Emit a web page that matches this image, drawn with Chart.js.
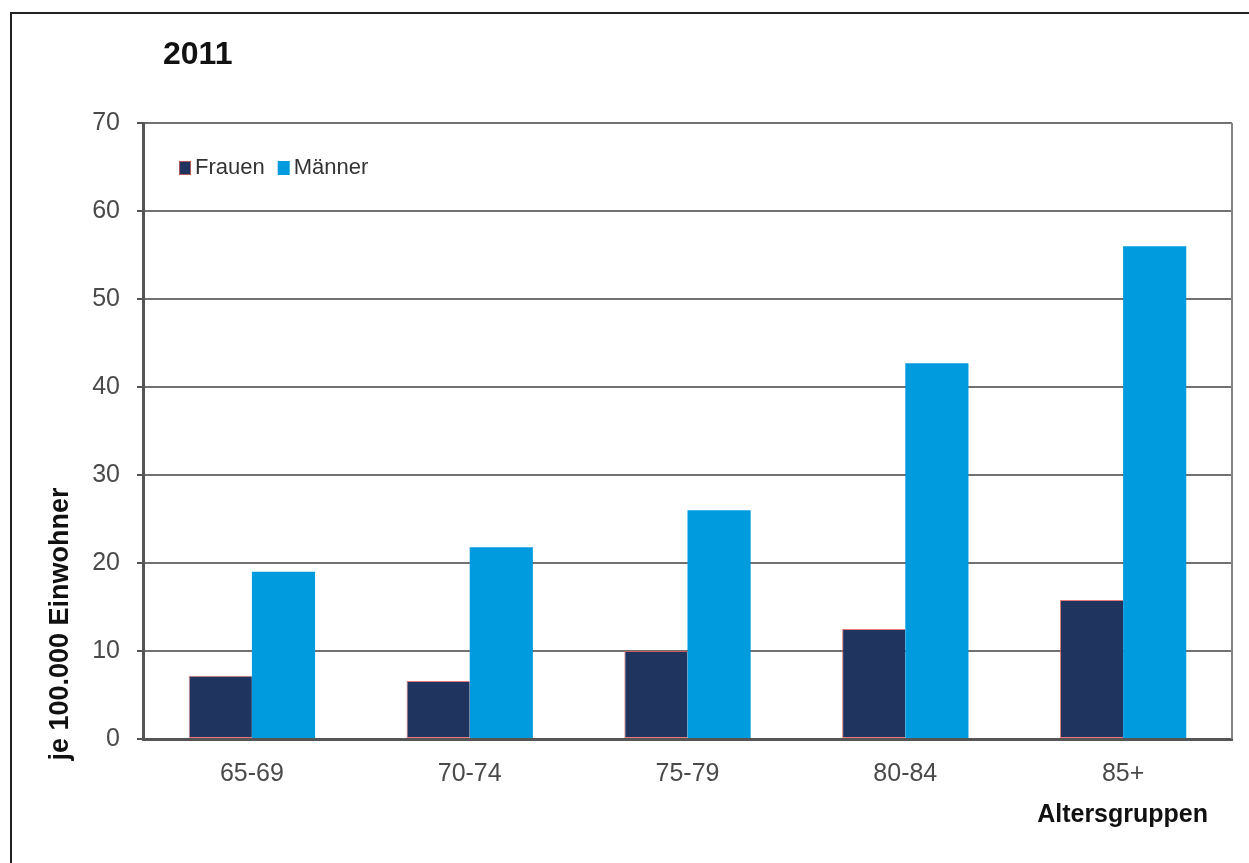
<!DOCTYPE html>
<html lang="de">
<head>
    <meta charset="UTF-8">
    <title>2011 - je 100.000 Einwohner nach Altersgruppen</title>
    <style>
        html, body { margin: 0; padding: 0; background: #fff; overflow: hidden; }
        .frame {
            position: absolute; left: 10px; top: 12px;
            width: 1300px; height: 900px;
            border: 2px solid #222;
        }
        .chart-box { position: absolute; left: 0; top: 0; width: 1249px; height: 863px; }
    </style>
</head>
<body>
    <div class="frame"></div>
    <div class="chart-box"><canvas id="chart"></canvas></div>

    <script src="https://cdn.jsdelivr.net/npm/chart.js"></script>
    <script>
        // Data
        const ageGroups = ['65-69', '70-74', '75-79', '80-84', '85+'];
        const frauen = [7.2, 6.6, 10.0, 12.5, 15.8];
        const maenner = [19.0, 21.8, 26.0, 42.7, 56.0];
        const yTicks = [0, 10, 20, 30, 40, 50, 60, 70];

        const FONT = '"Liberation Sans", Arial, sans-serif';

        // Title, axis titles, legend and right frame line
        const decorations = {
            id: 'decorations',
            afterDraw(chart) {
                const ctx = chart.ctx;
                const area = chart.chartArea;
                ctx.save();

                // right edge of plot box
                ctx.strokeStyle = '#858585';
                ctx.lineWidth = 2;
                ctx.beginPath();
                ctx.moveTo(area.right, area.top);
                ctx.lineTo(area.right, area.bottom);
                ctx.stroke();

                ctx.fillStyle = '#111';
                ctx.textBaseline = 'middle';

                ctx.font = 'bold 32px ' + FONT;
                ctx.textAlign = 'left';
                ctx.fillText('2011', 163, 55);

                ctx.font = 'bold 25px ' + FONT;
                ctx.textAlign = 'right';
                ctx.fillText('Altersgruppen', 1208, 815);

                ctx.save();
                ctx.translate(61, 624);
                ctx.rotate(-Math.PI / 2);
                ctx.textAlign = 'center';
                ctx.font = 'bold 27px ' + FONT;
                ctx.fillText('je 100.000 Einwohner', 0, 0);
                ctx.restore();

                // legend
                ctx.font = '22px ' + FONT;
                ctx.textAlign = 'left';
                let x = 179;
                const y = 168;
                chart.data.datasets.forEach(ds => {
                    ctx.fillStyle = ds.backgroundColor;
                    ctx.fillRect(x, y - 7, 12, 14);
                    if (ds.label === 'Frauen') {
                        ctx.strokeStyle = 'rgba(225,90,90,0.8)';
                        ctx.lineWidth = 1;
                        ctx.strokeRect(x + 0.5, y - 6.5, 11, 13);
                    }
                    ctx.fillStyle = '#333';
                    ctx.fillText(ds.label, x + 16, y);
                    x += 16 + ctx.measureText(ds.label).width + 13;
                });

                ctx.restore();
            }
        };

        new Chart(document.getElementById('chart'), {
            type: 'bar',
            data: {
                labels: ageGroups,
                datasets: [{
                    label: 'Frauen',
                    data: frauen,
                    backgroundColor: '#1f345e',
                    borderColor: 'rgba(225,90,90,0.8)',
                    borderWidth: { left: 1, top: 1, bottom: 1, right: 0 },
                    borderSkipped: false,
                    categoryPercentage: 0.58,
                    barPercentage: 1.0
                }, {
                    label: 'Männer',
                    data: maenner,
                    backgroundColor: '#009ade',
                    borderWidth: 0,
                    categoryPercentage: 0.58,
                    barPercentage: 1.0
                }]
            },
            options: {
                responsive: true,
                maintainAspectRatio: false,
                animation: false,
                layout: { padding: { left: 0, top: 123, right: 17, bottom: 0 } },
                plugins: {
                    legend: { display: false },
                    title: { display: false },
                    tooltip: { enabled: false }
                },
                scales: {
                    x: {
                        grid: { display: false },
                        border: { display: true, color: '#555', width: 3 },
                        ticks: {
                            color: '#4a4a4a',
                            font: { family: FONT, size: 25 },
                            padding: 12
                        },
                        afterFit(scale) { scale.height = 124; }
                    },
                    y: {
                        min: 0,
                        max: 70,
                        afterBuildTicks(scale) {
                            scale.ticks = yTicks.map(v => ({ value: v }));
                        },
                        grid: {
                            color: '#717171',
                            lineWidth: 2,
                            tickLength: 6,
                            tickColor: '#555'
                        },
                        border: { display: true, color: '#555', width: 3 },
                        ticks: {
                            color: '#4a4a4a',
                            font: { family: FONT, size: 25 },
                            padding: 17
                        },
                        afterFit(scale) { scale.width = 143; }
                    }
                }
            },
            plugins: [decorations]
        });
    </script>
</body>
</html>
